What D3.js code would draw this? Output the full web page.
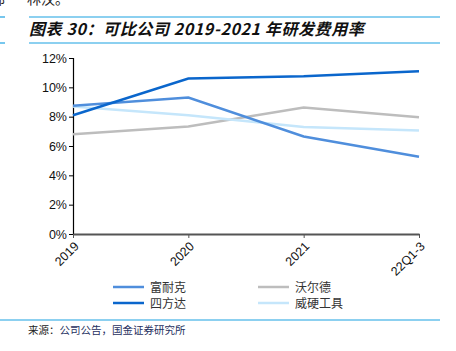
<!DOCTYPE html>
<html>
<head>
<meta charset="utf-8">
<script src="https://cdn.jsdelivr.net/npm/d3@7"></script>
<style>
    body { margin: 0; background: #fff; }
    svg { display: block; }
</style>
</head>
<body>
<div id="chart"></div>
<script>
let w = 456;
let h = 351;
let margin = {top: 58, right: 37, bottom: 117, left: 73};

// data
let periods = ['2019', '2020', '2021', '22Q1-3'];
let companies = ['富耐克', '沃尔德', '四方达', '威硬工具'];
let funeike = [8.75, 9.3, 6.65, 5.27];
let woerde = [6.8, 7.33, 8.62, 7.96];
let sifangda = [8.1, 10.6, 10.75, 11.1];
let weiying = [8.7, 8.1, 7.3, 7.05];
let yTicks = [0, 2, 4, 6, 8, 10, 12];

let seriesValues = {'富耐克': funeike, '沃尔德': woerde, '四方达': sifangda, '威硬工具': weiying};

let colorScale = d3.scaleOrdinal()
    .domain(companies)
    .range(['#4f8edc', '#bdbdbd', '#0a66cc', '#c5e6fb']);

let svg = d3.select('#chart')
    .append('svg')
    .attr('width', w)
    .attr('height', h);

// header bits: cut-off text from the page and the title rules
svg.append('text')
    .attr('x', 27).attr('y', 4)
    .style('font-family', 'Noto Sans CJK SC')
    .style('font-size', '14px')
    .attr('fill', '#222')
    .text('林汉。');
svg.append('text')
    .attr('x', -9).attr('y', 4)
    .style('font-family', 'Noto Sans CJK SC')
    .style('font-size', '14px')
    .attr('fill', '#222')
    .text('部');

[17, 43].forEach(y => {
    svg.append('line').attr('x1', 0).attr('x2', 5).attr('y1', y).attr('y2', y)
        .attr('stroke', '#1ba1e2').attr('stroke-width', 1.2);
    svg.append('line').attr('x1', 29).attr('x2', 440).attr('y1', y).attr('y2', y)
        .attr('stroke', '#1ba1e2').attr('stroke-width', 1.2);
});

svg.append('text')
    .attr('x', 29).attr('y', 35)
    .style('font-family', '"Noto Sans CJK SC", "Liberation Sans"')
    .style('font-size', '16px')
    .style('font-weight', 'bold')
    .style('font-style', 'italic')
    .style('letter-spacing', '0.6px')
    .attr('fill', '#111')
    .text('图表 30：可比公司 2019-2021 年研发费用率');

let xScale = d3.scalePoint()
    .domain(periods)
    .range([margin.left, w - margin.right]);

let yScale = d3.scaleLinear()
    .domain([0, 12])
    .range([h - margin.bottom, margin.top]);

let yAxis = d3.axisLeft(yScale)
    .tickValues(yTicks)
    .tickSize(4)
    .tickFormat(d => d + '%');

let yG = svg.append('g')
    .attr('transform', 'translate(' + margin.left + ',0)')
    .call(yAxis);
yG.select('.domain').attr('stroke', '#000').attr('stroke-width', 1.2);
yG.selectAll('line').attr('stroke', '#000');
yG.selectAll('text')
    .style('font-family', '"Liberation Sans", Arial')
    .style('font-size', '12.5px')
    .attr('fill', '#111')
    .attr('x', -6);

let xAxis = d3.axisBottom(xScale)
    .tickSize(4)
    .tickSizeOuter(0);

let xG = svg.append('g')
    .attr('transform', 'translate(0,' + (h - margin.bottom) + ')')
    .call(xAxis);
xG.select('.domain').attr('stroke', '#555').attr('stroke-width', 2);
xG.selectAll('line').attr('stroke', '#555');
xG.selectAll('text')
    .style('font-family', '"Liberation Sans", Arial')
    .style('font-size', '12.5px')
    .attr('fill', '#111')
    .style('text-anchor', 'end')
    .attr('dy', '0.35em')
    .attr('transform', 'translate(3,10) rotate(-45)')
    .attr('y', 0)
    .attr('x', 0);

let line = d3.line()
    .x((d, i) => xScale(periods[i]))
    .y(d => yScale(d));

// draw order so the dark blue sits on top
['沃尔德', '威硬工具', '富耐克', '四方达'].forEach(c => {
    svg.append('path')
        .datum(seriesValues[c])
        .attr('d', line)
        .attr('stroke', colorScale(c))
        .style('stroke-width', 2.5)
        .style('fill', 'none');
});

// legend
let legendItems = [
    {name: '富耐克', x: 113, y: 287},
    {name: '沃尔德', x: 258, y: 287},
    {name: '四方达', x: 113, y: 303},
    {name: '威硬工具', x: 258, y: 303}
];
let legend = svg.append('g');
legendItems.forEach(d => {
    legend.append('line')
        .attr('x1', d.x).attr('x2', d.x + 31)
        .attr('y1', d.y).attr('y2', d.y)
        .attr('stroke', colorScale(d.name))
        .attr('stroke-width', 2.5);
    legend.append('text')
        .attr('x', d.x + 37).attr('y', d.y + 4.5)
        .style('font-family', 'Noto Sans CJK SC')
        .style('font-size', '12px')
        .attr('fill', '#333')
        .text(d.name);
});

// source line
svg.append('line').attr('x1', 0).attr('x2', 440).attr('y1', 320).attr('y2', 320)
    .attr('stroke', '#1ba1e2').attr('stroke-width', 1.2);

let src = svg.append('text')
    .attr('x', 28).attr('y', 334)
    .style('font-family', 'Noto Sans CJK SC')
    .style('font-size', '10.5px');
src.append('tspan').attr('fill', '#222').text('来源：');
src.append('tspan').attr('fill', '#1f3060').text('公司公告，国金证券研究所');
</script>
</body>
</html>
